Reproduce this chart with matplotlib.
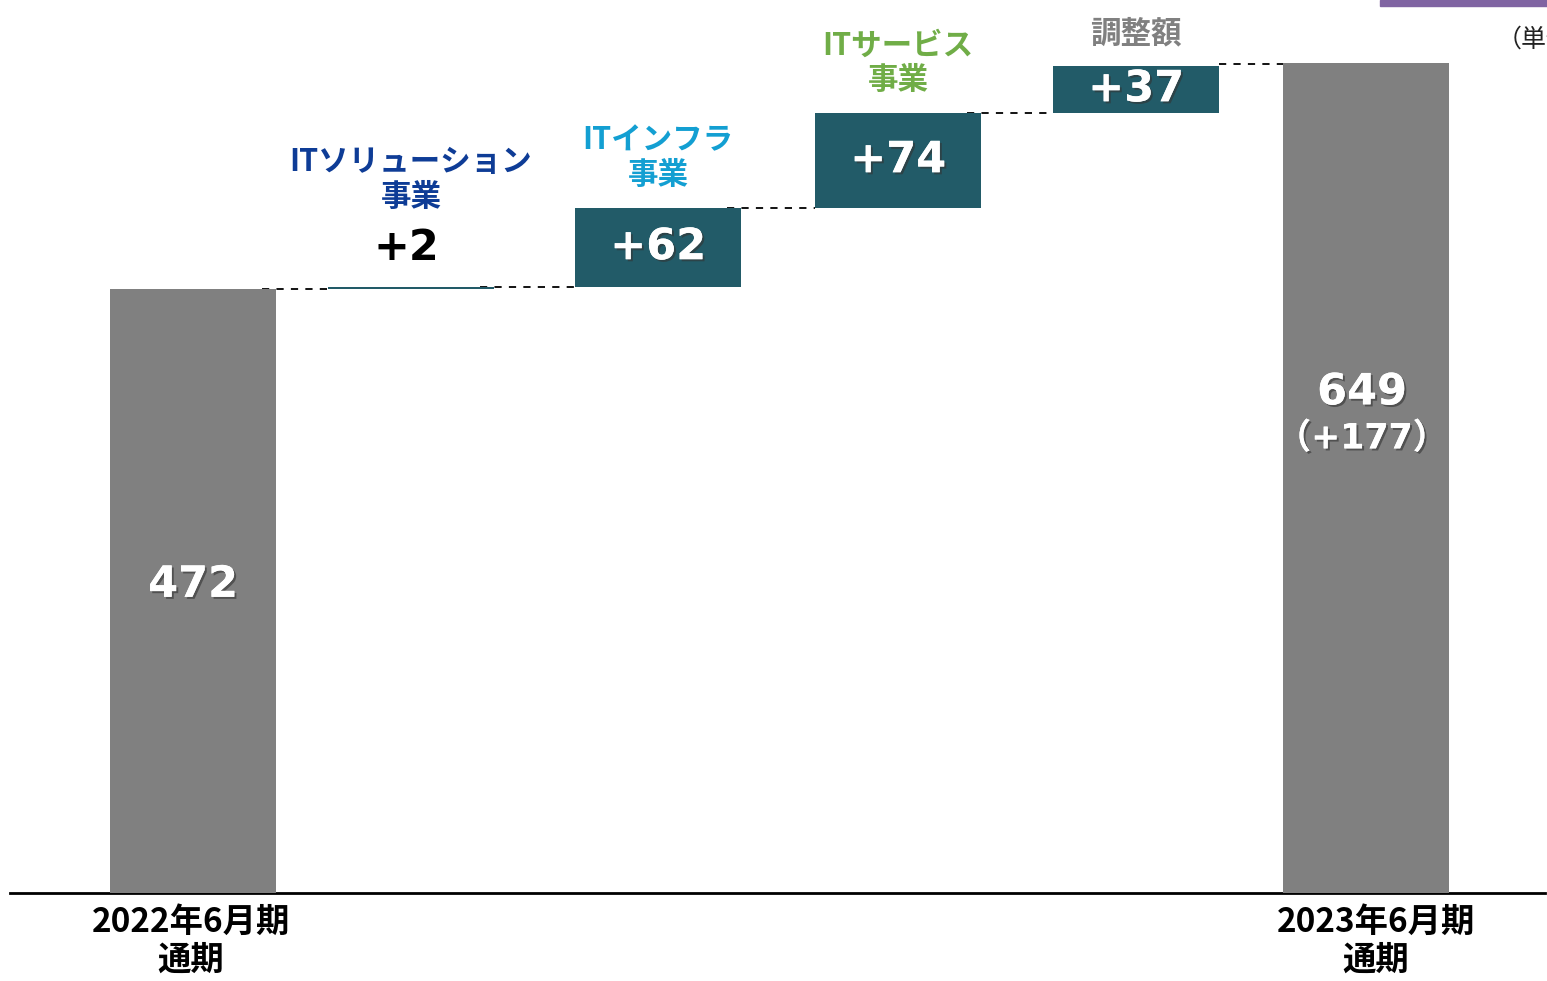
import matplotlib.pyplot as plt
import matplotlib.patheffects as pe
from matplotlib.patches import Rectangle

# data
start_label = '2022年6月期\n通期'
end_label = '2023年6月期\n通期'
start_value = 472
end_value = 649
step_names = ['ITソリューション\n事業', 'ITインフラ\n事業', 'ITサービス\n事業', '調整額']
step_values = [2, 62, 74, 37]
step_colors = ['#0E3C96', '#139FD2', '#70AD47', '#808080']
total_change = '（+177）'
unit_text = '（単位：億円）'

# layout (pixel-like x positions)
xpos = [193, 411, 658, 898, 1136, 1366]
width = 166
teal = '#225B68'
grey = '#808080'
jp = ['Noto Sans CJK JP', 'DejaVu Sans']
num = ['DejaVu Sans', 'Noto Sans CJK JP']
shadow = [pe.withSimplePatchShadow(offset=(1.5, -1.5), shadow_rgbFace='#333333', alpha=0.6), pe.Normal()]

fig = plt.figure(figsize=(15.47, 9.81), dpi=100)
ax = fig.add_axes([0, 0, 1, 1])
ax.set_xlim(0, 1547)
ax.set_ylim(-68.8, 698.3)
ax.axis('off')

# baseline
ax.plot([10, 1545], [0, 0], color='black', lw=2, zorder=1)

# start / end bars
ax.bar(xpos[0], start_value, width=width, color=grey, zorder=2)
ax.bar(xpos[-1], end_value, width=width, color=grey, zorder=2)
ax.text(xpos[0], start_value / 2 + 5, str(start_value), ha='center', va='center',
        color='white', fontsize=31, fontweight='bold', family=num, path_effects=shadow, zorder=5)
ax.text(xpos[-1] - 4, end_value / 2 + 67, str(end_value), ha='center', va='center',
        color='white', fontsize=31, fontweight='bold', family=num, path_effects=shadow, zorder=5)
ax.text(xpos[-1] - 4, end_value / 2 + 31, total_change, ha='center', va='center',
        color='white', fontsize=25, fontweight='bold', family=num, path_effects=shadow, zorder=5)

# steps
level = start_value
prev_right = xpos[0] + width / 2
for i, (name, v, c) in enumerate(zip(step_names, step_values, step_colors)):
    x = xpos[i + 1]
    ax.plot([prev_right - 14, x - width / 2], [level, level], color='black', lw=1.3,
            ls=(0, (4, 4)), zorder=1)
    ax.bar(x, v, bottom=level, width=width, color=teal, zorder=2)
    top = level + v
    if v < 10:
        ax.text(x - 5, top + 14, '+%d' % v, ha='center', va='bottom', color='black',
                fontsize=31, fontweight='bold', family=num, zorder=5)
        name_y = top + 58
    else:
        ax.text(x, level + v / 2, '+%d' % v, ha='center', va='center', color='white',
                fontsize=31, fontweight='bold', family=num, path_effects=shadow, zorder=5)
        name_y = top + 13
    ax.text(x, name_y, name, ha='center', va='bottom', color=c, fontsize=22,
            fontweight='bold', family=jp, linespacing=1.1, zorder=5)
    level = top
    prev_right = x + width / 2
ax.plot([prev_right, xpos[-1] - width / 2 + 8], [level + 1.5, level + 1.5], color='black',
        lw=1.3, ls=(0, (4, 4)), zorder=1)

# x labels
for x, lab in [(xpos[0] - 2, start_label), (xpos[-1] + 10, end_label)]:
    ax.text(x, -10, lab, ha='center', va='top', color='black', fontsize=24,
            fontweight='bold', family=jp, linespacing=1.2)

# top-right decoration
fig.patches.append(Rectangle((1380 / 1547, 1 - 6 / 981), 1, 6 / 981,
                             transform=fig.transFigure, color='#8064A2'))
fig.text(1497 / 1547, 1 - 40 / 981, unit_text, ha='left', va='center', fontsize=18,
         family=jp, color='#222222')

fig.savefig('out.png', dpi=100)
